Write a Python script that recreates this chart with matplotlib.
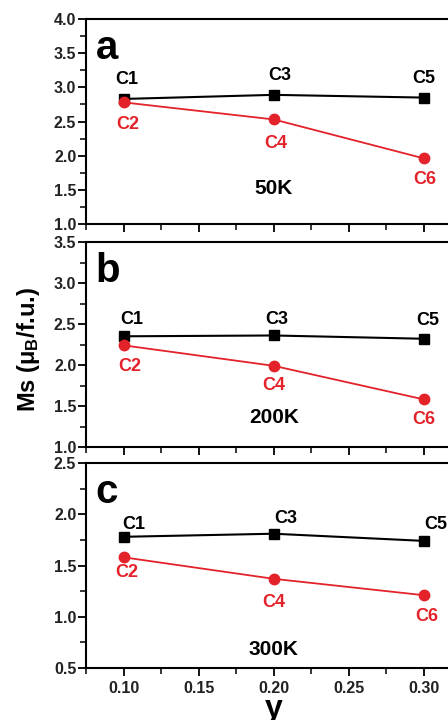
import matplotlib
matplotlib.use('Agg')
import matplotlib.pyplot as plt
from matplotlib.ticker import MultipleLocator

plt.rcParams['font.family'] = ['Liberation Sans', 'DejaVu Sans']
plt.rcParams['font.weight'] = 'bold'
plt.rcParams['mathtext.fontset'] = 'custom'
plt.rcParams['mathtext.rm'] = 'Liberation Sans:bold'
plt.rcParams['mathtext.it'] = 'Liberation Sans:bold'
plt.rcParams['mathtext.sf'] = 'Liberation Sans:bold'
plt.rcParams['mathtext.default'] = 'rm'

# composition y
y_vals = [0.10, 0.20, 0.30]

# Ms values (muB / f.u.)
black_50 = [2.83, 2.89, 2.85]
red_50 = [2.78, 2.53, 1.96]
black_200 = [2.35, 2.36, 2.32]
red_200 = [2.24, 1.99, 1.58]
black_300 = [1.78, 1.81, 1.74]
red_300 = [1.58, 1.37, 1.21]

black_names = ['C1', 'C3', 'C5']
red_names = ['C2', 'C4', 'C6']
panel_letters = ['a', 'b', 'c']
temps = ['50K', '200K', '300K']
temp_y = [1.52, 1.36, 0.68]
ylims = [(1.0, 4.0), (1.0, 3.5), (0.5, 2.5)]

RED = '#e3222a'

fig = plt.figure(figsize=(4.48, 7.2), dpi=100)
H = 205 / 720
bottoms = [(720 - 224) / 720, (720 - 447) / 720, (720 - 668) / 720]
left = 86 / 448
width = 375.5 / 448

blacks = [black_50, black_200, black_300]
reds = [red_50, red_200, red_300]

# label offsets in pixels (dx, dy) for black and red labels, per panel
black_off = [[(3, 19), (6, 19), (0, 19)],
             [(8, 17), (3, 16), (4, 18)],
             [(10, 12), (12, 15), (12, 16)]]
red_off = [[(4, -22), (2, -24), (1, -21)],
           [(6, -21), (0, -20), (0, -20)],
           [(3, -15), (0, -24), (3, -21)]]

axes = []
for i in range(3):
    ax = fig.add_axes([left, bottoms[i], width, H])
    axes.append(ax)
    ax.plot(y_vals, blacks[i], color='black', marker='s', markersize=6.5,
            linewidth=1.5, zorder=3)
    ax.plot(y_vals, reds[i], color=RED, marker='o', markersize=7.5,
            linewidth=1.3, zorder=4)
    for j in range(3):
        ax.annotate(black_names[j], (y_vals[j], blacks[i][j]),
                    xytext=black_off[i][j], textcoords='offset pixels',
                    ha='center', va='center', fontsize=13, fontweight='bold',
                    color='black')
        ax.annotate(red_names[j], (y_vals[j], reds[i][j]),
                    xytext=red_off[i][j], textcoords='offset pixels',
                    ha='center', va='center', fontsize=13, fontweight='bold',
                    color=RED)
    ax.text(0.20, temp_y[i], temps[i], ha='center', va='center',
            fontsize=15, fontweight='bold')
    ax.text(0.025, 0.86, panel_letters[i], transform=ax.transAxes,
            fontsize=29, fontweight='bold', ha='left', va='center')

    ax.set_xlim(0.075, 0.325)
    ax.set_ylim(*ylims[i])
    ax.xaxis.set_major_locator(MultipleLocator(0.05))
    ax.xaxis.set_minor_locator(MultipleLocator(0.025))
    ax.yaxis.set_major_locator(MultipleLocator(0.5))
    ax.yaxis.set_minor_locator(MultipleLocator(0.25))
    ax.tick_params(which='major', direction='out', length=6, width=1.3,
                   labelsize=11.5, labelcolor='#222222')
    ax.tick_params(which='minor', direction='out', length=4, width=1.1)
    ax.tick_params(axis='y', pad=1)
    for s in ax.spines.values():
        s.set_linewidth(1.5)
    for lab in ax.get_yticklabels():
        lab.set_fontweight('bold')
    if i < 2:
        ax.tick_params(axis='x', labelbottom=False)
    else:
        ax.set_xticks([0.10, 0.15, 0.20, 0.25, 0.30])
        ax.set_xticklabels(['0.10', '0.15', '0.20', '0.25', '0.30'],
                           fontweight='bold')

axes[2].set_xlabel('y', fontsize=23, fontweight='bold')
axes[2].xaxis.set_label_coords((0.20 - 0.075) / 0.25, -0.125)
axes[2].xaxis.label.set_va('top')
fig.text(0.064, 1 - 349 / 720, r'Ms ($\mu_B$/f.u.)',
         rotation=90, ha='center', va='center', fontsize=17,
         fontweight='bold')

fig.savefig('out.png', dpi=100)
